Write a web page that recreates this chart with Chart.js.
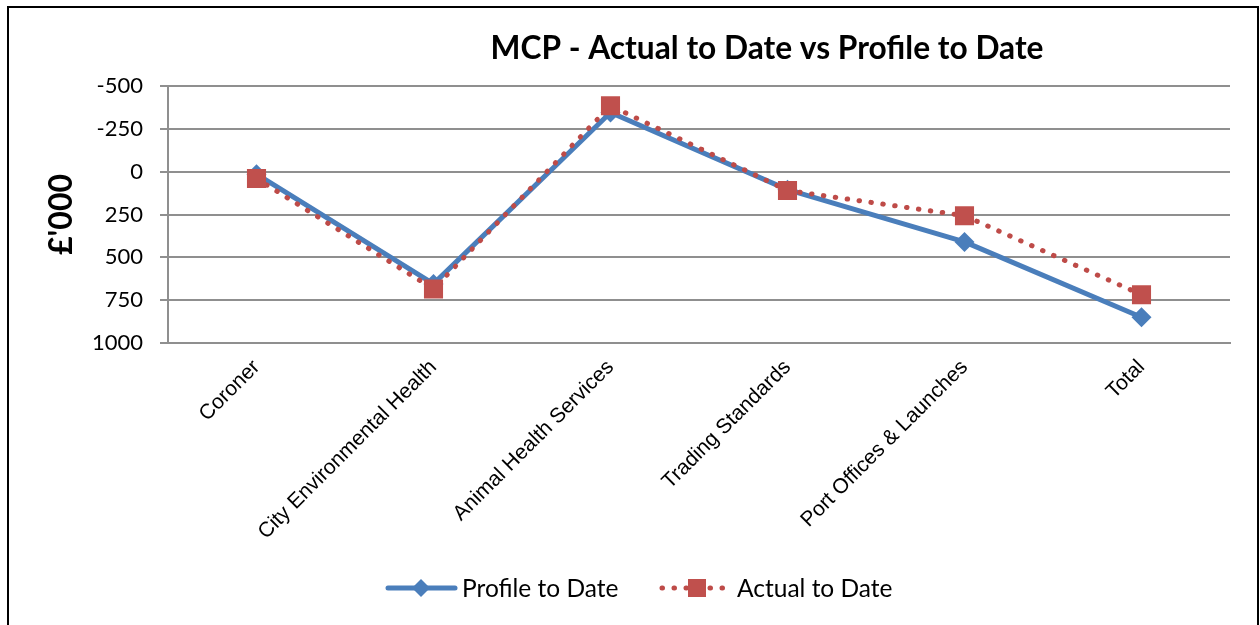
<!DOCTYPE html>
<html><head><meta charset="utf-8">
<script src="https://cdn.jsdelivr.net/npm/chart.js@4.4.1/dist/chart.umd.min.js"></script>
<style>html,body{margin:0;padding:0;background:#fff;}canvas{display:block;}</style>
</head><body>
<canvas id="c" width="1260" height="625"></canvas>
<script>
const chartTitle = "MCP - Actual to Date vs Profile to Date";
const yAxisTitle = "£'000";
const categories = ["Coroner", "City Environmental Health", "Animal Health Services", "Trading Standards", "Port Offices & Launches", "Total"];
const seriesNames = ["Profile to Date", "Actual to Date"];
const profileToDate = [15, 655, -345, 105, 410, 850];
const actualToDate = [40, 685, -385, 110, 257, 718];
const yTicks = [-500, -250, 0, 250, 500, 750, 1000];

const BLUE = '#4A7EBB';
const RED = '#BE4B48';

function drawDiamond(ctx, x, y, r, color) {
  ctx.beginPath();
  ctx.moveTo(x, y - r); ctx.lineTo(x + r, y); ctx.lineTo(x, y + r); ctx.lineTo(x - r, y);
  ctx.closePath(); ctx.fillStyle = color; ctx.fill();
}

const decor = {
  id: 'decor',
  beforeDraw(chart) {
    const ctx = chart.ctx;
    ctx.save();
    ctx.fillStyle = '#fff';
    ctx.fillRect(0, 0, chart.width, chart.height);
    ctx.strokeStyle = '#000';
    ctx.lineWidth = 2;
    ctx.strokeRect(8, 7, 1250, 700);
    ctx.restore();
  },
  afterDraw(chart) {
    const ctx = chart.ctx;
    ctx.save();
    ctx.fillStyle = '#000';
    ctx.font = 'bold 31.7px Lato';
    ctx.textAlign = 'center';
    ctx.textBaseline = 'alphabetic';
    ctx.fillText(chartTitle, 767, 59);

    // legend
    const ly = 588;
    ctx.font = '24.5px Lato';
    ctx.textAlign = 'left';
    ctx.textBaseline = 'middle';
    const ds = chart.data.datasets;
    // item 1: solid line with diamond
    ctx.strokeStyle = ds[0].borderColor;
    ctx.lineWidth = 5;
    ctx.lineCap = 'round';
    ctx.beginPath(); ctx.moveTo(388, ly); ctx.lineTo(455, ly); ctx.stroke();
    drawDiamond(ctx, 421, ly, 9, ds[0].borderColor);
    ctx.fillStyle = '#000';
    ctx.fillText(ds[0].label, 462, ly + 1);
    // item 2: dotted line with square
    ctx.strokeStyle = ds[1].borderColor;
    ctx.lineWidth = 5;
    ctx.setLineDash([0.5, 11.5]);
    ctx.beginPath(); ctx.moveTo(662, ly); ctx.lineTo(724, ly); ctx.stroke();
    ctx.setLineDash([]);
    ctx.fillStyle = ds[1].backgroundColor;
    ctx.fillRect(688, ly - 9, 18, 18);
    ctx.fillStyle = '#000';
    ctx.fillText(ds[1].label, 737, ly + 1);
    ctx.restore();
  }
};

new Chart(document.getElementById('c'), {
  type: 'line',
  data: {
    labels: categories,
    datasets: [
      { label: seriesNames[0], data: profileToDate, borderColor: BLUE, backgroundColor: BLUE,
        borderWidth: 5, borderJoinStyle: 'round', pointStyle: 'rectRot', pointRadius: 10, pointHoverRadius: 10,
        pointBorderWidth: 0, tension: 0, order: 2 },
      { label: seriesNames[1], data: actualToDate, borderColor: RED, backgroundColor: '#C0504D',
        borderWidth: 5, borderDash: [0.5, 11.5], borderCapStyle: 'round', pointStyle: 'rect', pointRadius: 13.5,
        pointHoverRadius: 13.5, pointBorderWidth: 0, tension: 0, order: 1 }
    ]
  },
  options: {
    responsive: false,
    animation: false,
    devicePixelRatio: 1,
    events: [],
    layout: { padding: { top: 86, right: 30, left: 0, bottom: 0 } },
    plugins: { legend: { display: false }, title: { display: false }, tooltip: { enabled: false } },
    scales: {
      x: {
        offset: true,
        grid: { display: false },
        border: { display: true, color: '#8f8f8f', width: 2 },
        ticks: { minRotation: 45, maxRotation: 45, autoSkip: false, color: '#000',
                 font: { family: 'Liberation Sans', size: 21 }, padding: 4 },
        afterFit(s) { s.height = 282; }
      },
      y: {
        reverse: true, min: -500, max: 1000,
        afterBuildTicks(s) { s.ticks = yTicks.map(v => ({ value: v })); },
        grid: { color: '#8f8f8f', lineWidth: 2, tickLength: 8, drawTicks: true },
        border: { display: true, color: '#8f8f8f', width: 2 },
        ticks: { color: '#000', font: { family: 'Lato', size: 22 }, padding: 17, callback: v => String(v) },
        title: { display: true, text: yAxisTitle, color: '#000',
                 font: { family: 'Lato', weight: 'bold', size: 32 }, padding: { top: 42, bottom: 0 } },
        afterFit(s) { s.width = 168; }
      }
    }
  },
  plugins: [decor]
});
</script>
</body></html>
